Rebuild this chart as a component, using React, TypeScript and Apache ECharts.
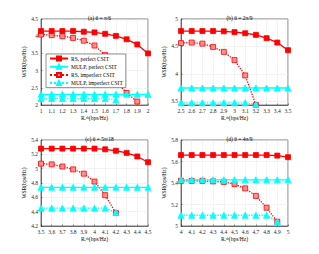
import React, { useEffect, useRef } from 'react';
import * as echarts from 'echarts';

// ---- data ----
const xA = [1, 1.1, 1.2, 1.3, 1.4, 1.5, 1.6, 1.7, 1.8, 1.9, 2];
const rsPerfectA = [4.15, 4.15, 4.15, 4.15, 4.13, 4.11, 4.07, 4.01, 3.91, 3.76, 3.5];
const mulpPerfectA = [2.31, 2.31, 2.31, 2.31, 2.31, 2.31, 2.31, 2.31, 2.31, 2.31, 2.31];
const rsImperfectA = [4.05, 4.03, 4.0, 3.95, 3.87, 3.73, 3.45, 2.7, 2.35, 2.1];
const mulpImperfectA = [2.19, 2.19, 2.19, 2.19, 2.19, 2.19, 2.19, 2.15];

const xB = [2.5, 2.6, 2.7, 2.8, 2.9, 3, 3.1, 3.2, 3.3, 3.4, 3.5];
const rsPerfectB = [4.78, 4.78, 4.78, 4.78, 4.775, 4.76, 4.74, 4.71, 4.65, 4.57, 4.43];
const mulpPerfectB = [3.74, 3.74, 3.74, 3.74, 3.74, 3.74, 3.74, 3.74, 3.74, 3.74, 3.74];
const rsImperfectB = [4.56, 4.57, 4.55, 4.49, 4.4, 4.25, 3.97, 3.43];
const mulpImperfectB = [3.47, 3.47, 3.47, 3.47, 3.47, 3.47, 3.47, 3.44];

const xC = [3.5, 3.6, 3.7, 3.8, 3.9, 4, 4.1, 4.2, 4.3, 4.4, 4.5];
const rsPerfectC = [5.28, 5.28, 5.28, 5.28, 5.28, 5.28, 5.27, 5.25, 5.22, 5.17, 5.09];
const mulpPerfectC = [4.74, 4.74, 4.74, 4.74, 4.74, 4.74, 4.74, 4.74, 4.74, 4.74, 4.74];
const rsImperfectC = [5.07, 5.06, 5.03, 4.99, 4.93, 4.82, 4.63, 4.38];
const mulpImperfectC = [4.45, 4.45, 4.45, 4.45, 4.45, 4.45, 4.45, 4.39];

const xD = [4, 4.1, 4.2, 4.3, 4.4, 4.5, 4.6, 4.7, 4.8, 4.9, 5];
const rsPerfectD = [5.66, 5.66, 5.66, 5.66, 5.66, 5.66, 5.66, 5.66, 5.66, 5.655, 5.64];
const mulpPerfectD = [5.43, 5.43, 5.43, 5.43, 5.43, 5.43, 5.43, 5.43, 5.43, 5.43, 5.43];
const rsImperfectD = [5.42, 5.42, 5.42, 5.415, 5.41, 5.39, 5.35, 5.28, 5.17, 5.04];
const mulpImperfectD = [5.1, 5.1, 5.1, 5.1, 5.1, 5.1, 5.1, 5.1, 5.1, 5.04];

const titles = ['(a) θ = π/6', '(b) θ = 2π/9', '(c) θ = 5π/18', '(d) θ = 4π/9'];
const seriesNames = ['RS, perfect CSIT', 'MULP, perfect CSIT', 'RS, imperfect CSIT', 'MULP, imperfect CSIT'];
const yTicksB = [3.5, 4, 4.5, 5];

const FONT = 'Liberation Serif';

const pairs = (xs: number[], ys: number[]) => ys.map((y, i) => [xs[i], y]);

export default function App() {
  const ref = useRef<HTMLDivElement>(null);
  useEffect(() => {
    if (!ref.current) return;
    const chart = echarts.init(ref.current, undefined, { renderer: 'svg' });

    const panels = [
      { x: xA, d: [rsPerfectA, mulpPerfectA, rsImperfectA, mulpImperfectA], xmin: 1, xmax: 2, ymin: 2, ymax: 4.5, yint: 0.5, left: 41, top: 19 },
      { x: xB, d: [rsPerfectB, mulpPerfectB, rsImperfectB, mulpImperfectB], xmin: 2.5, xmax: 3.5, ymin: 3.43, ymax: 5, yint: 0, left: 181, top: 19 },
      { x: xC, d: [rsPerfectC, mulpPerfectC, rsImperfectC, mulpImperfectC], xmin: 3.5, xmax: 4.5, ymin: 4.2, ymax: 5.4, yint: 0.2, left: 41, top: 140 },
      { x: xD, d: [rsPerfectD, mulpPerfectD, rsImperfectD, mulpImperfectD], xmin: 4, xmax: 5, ymin: 5, ymax: 5.8, yint: 0.2, left: 181, top: 140 },
    ];
    const W = 107, H = 86;
    const labelStyle = { fontFamily: FONT, fontSize: 5.5, color: '#262626' };
    const axisLine = { show: true, lineStyle: { color: '#262626', width: 0.6 } };
    const splitLine = { show: true, lineStyle: { color: '#e6e6e6', width: 0.5 } };

    const grid: any[] = [], xAxis: any[] = [], yAxis: any[] = [], series: any[] = [], title: any[] = [];
    panels.forEach((p, i) => {
      grid.push({ left: p.left, top: p.top, width: W, height: H, show: true, borderColor: '#262626', borderWidth: 0.6, backgroundColor: '#fff' });
      title.push({ text: titles[i], left: p.left + W / 2, top: p.top - 9, textAlign: 'center', textStyle: { fontFamily: FONT, fontSize: 5.5, fontWeight: 'normal', color: '#000' } });
      xAxis.push({
        type: 'value', gridIndex: i, min: p.xmin, max: p.xmax, interval: 0.1,
        name: 'Rₑᵗʰ(bps/Hz)', nameLocation: 'middle', nameGap: 9, nameTextStyle: { ...labelStyle, fontSize: 5.5, color: '#000' },
        axisLine, axisTick: { show: true, inside: true, length: 1.5, lineStyle: { color: '#262626', width: 0.5 } },
        axisLabel: { ...labelStyle, margin: 3, formatter: (v: number) => String(Math.round(v * 10) / 10) },
        splitLine,
      });
      const y: any = {
        type: 'value', gridIndex: i, min: p.ymin, max: p.ymax,
        name: 'WSR(bps/Hz)', nameLocation: 'middle', nameGap: 12, nameTextStyle: { ...labelStyle, color: '#000' },
        axisLine, axisTick: { show: true, inside: true, length: 1.5, lineStyle: { color: '#262626', width: 0.5 } },
        axisLabel: { ...labelStyle, margin: 3, formatter: (v: number) => String(Math.round(v * 10) / 10) },
        splitLine,
      };
      if (p.yint) y.interval = p.yint;
      else {
        y.axisLabel.customValues = yTicksB;
        y.axisTick.customValues = yTicksB;
      }
      yAxis.push(y);

      const styles = [
        { color: '#ff0000', type: 'solid', symbol: 'rect', size: 5, fill: '#ff0000' },
        { color: '#00ffff', type: 'solid', symbol: 'triangle', size: 6, fill: '#00ffff' },
        { color: '#ff0000', type: 'dotted', symbol: 'rect', size: 5, fill: '#ff9090' },
        { color: '#00ffff', type: 'dotted', symbol: 'triangle', size: 6, fill: '#00ffff' },
      ];
      p.d.forEach((vals, k) => {
        const s = styles[k];
        series.push({
          type: 'line', name: seriesNames[k], xAxisIndex: i, yAxisIndex: i,
          data: pairs(p.x, vals), symbol: s.symbol, symbolSize: s.size, showSymbol: true,
          lineStyle: { color: s.color, width: 1.3, type: s.type },
          itemStyle: { color: s.fill, borderColor: s.color, borderWidth: 0.8 },
          z: k < 2 ? 3 : 2,
        });
      });
    });

    chart.setOption({
      animation: false,
      backgroundColor: '#fff',
      title,
      grid, xAxis, yAxis, series,
      legend: {
        data: seriesNames, orient: 'vertical', left: 46, top: 54,
        itemWidth: 18, itemHeight: 5, itemGap: 2.2, padding: [1.5, 3, 1.5, 3],
        backgroundColor: '#fff', borderColor: '#262626', borderWidth: 0.5,
        textStyle: { fontFamily: FONT, fontSize: 5.5, color: '#000', padding: [0, 0, 0, -2] },
        z: 10,
      },
    });
    return () => chart.dispose();
  }, []);
  return <div ref={ref} style={{ position: 'fixed', left: 0, top: 0, width: 319, height: 254 }} />;
}
